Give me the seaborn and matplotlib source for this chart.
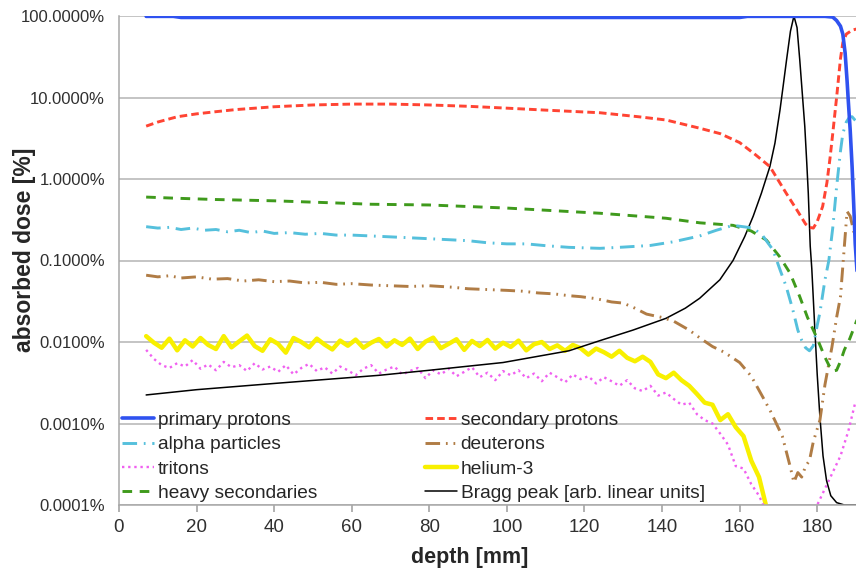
import matplotlib
matplotlib.use("Agg")
import matplotlib.pyplot as plt
from matplotlib.ticker import FuncFormatter, FixedLocator, NullLocator
import seaborn as sns

# depth [mm] and absorbed dose [%]
primary_x = [7, 14, 16, 60, 100, 140, 160, 162, 182, 184, 185, 186, 186.6, 187.2, 187.7, 188, 188.5, 189, 189.4, 189.8, 190.5]
primary_y = [99, 99, 96, 96, 96, 96, 96, 99, 99, 97, 88, 75, 60, 35, 16, 9.3, 4, 1.4, 0.5, 0.16, 0.05]

secondary_x = [7, 10, 15, 20, 25, 30, 40, 50, 60, 70, 80, 90, 100, 110, 124, 134, 141, 149.7, 155, 160, 164, 167.8,
               172, 175, 177, 178, 179, 180, 181.4, 182.5, 183.3, 184, 185, 186, 186.6, 187.5, 189, 190.5]
secondary_y = [4.45, 5.0, 5.8, 6.3, 6.7, 7.1, 7.7, 8.1, 8.3, 8.3, 8.1, 7.8, 7.4, 7.0, 6.5, 5.8, 5.3, 4.2, 3.6,
               2.8, 2.0, 1.42, 0.67, 0.4, 0.28, 0.255, 0.25, 0.3, 0.46, 0.9, 1.8, 3.6, 10, 30, 47, 60, 67, 70]

alpha_x = [7, 10, 13, 16, 19, 22, 25, 28, 31, 34, 37, 40, 44, 48, 52, 56, 60, 65, 70, 75, 80, 85, 90, 95, 100,
           105, 110, 116, 124, 130, 137, 143, 149.7, 154, 158.3, 163.5, 166, 168.6, 170.5, 172, 173.7,
           175, 176, 177, 178, 179, 180, 180.7, 182, 183, 184, 185, 186, 186.6, 187.5, 188.4, 189, 190.5]
alpha_y = [0.26, 0.25, 0.255, 0.24, 0.25, 0.235, 0.24, 0.225, 0.235, 0.22, 0.23, 0.215, 0.22, 0.21, 0.215, 0.205,
           0.205, 0.2, 0.195, 0.19, 0.185, 0.18, 0.175, 0.165, 0.16, 0.16, 0.152, 0.145, 0.141, 0.146, 0.153,
           0.17, 0.2, 0.235, 0.27, 0.25, 0.2, 0.135, 0.075, 0.048, 0.025, 0.014, 0.0105, 0.0085, 0.0078,
           0.009, 0.016, 0.023, 0.058, 0.1, 0.25, 0.8, 2.2, 3.6, 5.0, 5.8, 5.8, 4.8]

deuteron_x = [7, 10, 13, 16, 20, 24, 28, 32, 36, 40, 44, 48, 52, 56, 60, 65, 70, 75, 80, 86, 90, 95, 100, 104, 108,
              112, 116, 119, 123, 127, 130, 133, 136, 140, 143, 147, 150, 153, 156, 160, 163, 166, 168, 171, 173,
              174, 175, 176, 177, 178, 179, 180.7, 182, 183.8, 185, 186, 187, 187.7, 188.5, 189.5, 190.5]
deuteron_y = [0.066, 0.063, 0.065, 0.061, 0.063, 0.059, 0.06, 0.056, 0.058, 0.055, 0.056, 0.053, 0.054, 0.051, 0.052,
              0.05, 0.049, 0.048, 0.049, 0.047, 0.045, 0.044, 0.043, 0.042, 0.04, 0.039, 0.037, 0.036, 0.034, 0.031,
              0.03, 0.026, 0.022, 0.02, 0.018, 0.014, 0.011, 0.0088, 0.0075, 0.0056, 0.0038, 0.0021, 0.0014, 0.0007,
              0.0003, 0.00019, 0.00025, 0.00022, 0.0003, 0.00035, 0.0006, 0.0011, 0.003, 0.0087, 0.02, 0.036, 0.15,
              0.4, 0.35, 0.22, 0.2]

triton_x = [7, 9, 11, 13, 15, 17, 19, 21, 23, 25, 27, 29, 31, 33, 35, 37, 39, 41, 43, 45, 47, 49, 51, 53, 55, 57,
            59, 61, 63, 65, 67, 69, 71, 73, 75, 77, 79, 81, 83, 85, 87, 89, 91, 93, 95, 97, 99, 101, 103, 105, 107,
            109, 111, 113, 115, 117, 119, 121, 123, 125, 127, 129, 131, 133, 135, 137, 139, 141, 143, 145, 147, 149,
            151, 153, 155, 157, 159, 161, 163, 165, 167, 170, 176, 180, 183, 186, 188, 189.8]
triton_y = [0.008, 0.0062, 0.0052, 0.0048, 0.0055, 0.005, 0.006, 0.0047, 0.0053, 0.0045, 0.0057, 0.0049, 0.0052,
            0.0044, 0.0055, 0.0046, 0.005, 0.0043, 0.0052, 0.004, 0.0048, 0.0054, 0.0044, 0.0049, 0.0041, 0.005,
            0.0045, 0.0039, 0.0047, 0.0052, 0.0041, 0.0046, 0.005, 0.004, 0.0044, 0.0048, 0.0036, 0.0045, 0.004,
            0.0047, 0.0038, 0.0043, 0.0049, 0.0037, 0.0042, 0.0034, 0.0044, 0.0039, 0.0045, 0.0036, 0.0041, 0.0033,
            0.0042, 0.0037, 0.0032, 0.004, 0.0035, 0.0038, 0.0031, 0.0037, 0.0033, 0.0029, 0.0034, 0.0027, 0.0025,
            0.0029, 0.0022, 0.0024, 0.002, 0.0017, 0.0018, 0.0013, 0.0011, 0.001, 0.00075, 0.00055, 0.0003, 0.00028,
            0.00018, 0.00013, 0.00008, 0.00003, 0.00003, 0.0001, 0.0002, 0.0004, 0.0008, 0.0018]

helium_x = [7, 9, 11, 13, 15, 17, 19, 21, 23, 25, 27, 29, 31, 33, 35, 37, 39, 41, 43, 45, 47, 49, 51, 53, 55, 57,
            59, 61, 63, 65, 67, 69, 71, 73, 75, 77, 79, 81, 83, 85, 87, 89, 91, 93, 95, 97, 99, 101, 103, 105, 107,
            109, 111, 113, 115, 117, 119, 121, 123, 125, 127, 129, 131, 133, 135, 137, 139, 141, 143, 145, 147, 149,
            151, 153, 155, 157, 159, 161, 163, 165, 167]
helium_y = [0.0118, 0.0098, 0.0085, 0.011, 0.0079, 0.0105, 0.0088, 0.0112, 0.0092, 0.0082, 0.0118, 0.0086, 0.0102,
            0.012, 0.0089, 0.0078, 0.0108, 0.0095, 0.0074, 0.0112, 0.01, 0.0086, 0.011, 0.0093, 0.0081, 0.0104,
            0.009, 0.0107, 0.0085, 0.0098, 0.0109, 0.0088, 0.0105, 0.0092, 0.011, 0.0082, 0.0101, 0.0113, 0.0084,
            0.0095, 0.0108, 0.008, 0.0103, 0.0089, 0.0106, 0.0083, 0.0098, 0.0087, 0.0104, 0.0079, 0.0094, 0.01,
            0.0082, 0.0091, 0.0078, 0.0092, 0.0084, 0.007, 0.0083, 0.0075, 0.0066, 0.0078, 0.0064, 0.0058, 0.0066,
            0.0057, 0.004, 0.0036, 0.0042, 0.0034, 0.0029, 0.0023, 0.0018, 0.0017, 0.0011, 0.0013, 0.0009, 0.0007,
            0.00035, 0.00022, 0.00009]

heavy_x = [7, 15, 25, 40, 55, 65, 80, 100, 124, 141, 149.7, 158.3, 163, 166.9, 170.4, 173, 175.5, 177.5, 179, 180,
           182, 183, 184, 185, 186, 187, 188.4, 190.5]
heavy_y = [0.6, 0.58, 0.56, 0.54, 0.51, 0.49, 0.48, 0.44, 0.38, 0.33, 0.29, 0.27, 0.23, 0.178, 0.11, 0.07, 0.036,
           0.02, 0.014, 0.011, 0.0065, 0.0052, 0.0044, 0.0045, 0.0058, 0.008, 0.011, 0.02]

bragg_x = [7, 20, 40, 67, 80, 99, 116, 124, 132.5, 141, 146, 149.7, 154.9, 158.3, 161.3, 163.5, 165.6, 167.8,
           169.1, 170.4, 171.2, 172.1, 173.1, 174, 174.8, 175.5, 176.8, 177.3, 177.7, 178.2, 178.6, 179.4, 180,
           180.7, 181.5, 182.4, 183.5, 185, 187, 190.5]
bragg_y = [0.00224, 0.0026, 0.0031, 0.0039, 0.0045, 0.0056, 0.0078, 0.0104, 0.014, 0.0195, 0.026, 0.0344, 0.058,
           0.1, 0.196, 0.35, 0.667, 1.42, 2.75, 7, 13.6, 29, 65, 100, 72, 29, 4.4, 1.6, 0.67, 0.15, 0.08, 0.014,
           0.004, 0.0012, 0.0004, 0.0002, 0.00013, 0.000107, 0.0001, 0.0001]

series = [
    ("primary protons", primary_x, primary_y, "#2f52f0", 2.6, "-"),
    ("alpha particles", alpha_x, alpha_y, "#55c0dc", 2.1, (0, (5, 2.3, 0.6, 2.3))),
    ("tritons", triton_x, triton_y, "#f060f0", 1.7, (0, (1, 1.6))),
    ("heavy secondaries", heavy_x, heavy_y, "#3f9a1c", 2.1, (0, (3.3, 2.6))),
    ("secondary protons", secondary_x, secondary_y, "#ff4433", 2.1, (0, (2.6, 1.4))),
    ("deuterons", deuteron_x, deuteron_y, "#b07c45", 2.1, (0, (5, 2, 0.6, 2, 0.6, 2))),
    ("helium-3", helium_x, helium_y, "#f8f000", 3.2, "-"),
    ("Bragg peak [arb. linear units]", bragg_x, bragg_y, "black", 1.1, "-"),
]
draw_order = [6, 2, 7, 5, 3, 1, 4, 0]

sns.set_theme(style="white")
plt.rcParams["font.family"] = ["Liberation Sans", "DejaVu Sans"]

fig = plt.figure(figsize=(8.56, 5.69), dpi=100)
ax = fig.add_axes([119 / 856, 64 / 569, 737 / 856, 489 / 569])
ax.set_yscale("log")

handles = [None] * len(series)
for i in draw_order:
    name, xs, ys, color, lw, ls = series[i]
    sns.lineplot(x=xs, y=ys, ax=ax, color=color, linewidth=lw, linestyle=ls, sort=False,
                 estimator=None, label=name, legend=False)
    handles[i] = ax.get_lines()[-1]

ax.set_xlim(0, 190)
ax.set_ylim(1e-4, 100)
ax.xaxis.set_major_locator(FixedLocator(range(0, 181, 20)))
ax.yaxis.set_major_locator(FixedLocator([1e-4, 1e-3, 1e-2, 1e-1, 1, 10, 100]))
ax.yaxis.set_minor_locator(NullLocator())
ax.yaxis.set_major_formatter(FuncFormatter(lambda v, p: f"{v:.4f}%"))
ax.grid(axis="y", color="#b4b4b4", linewidth=1.1)
ax.grid(axis="x", visible=False)
ax.set_axisbelow(True)

for s in ["top", "right"]:
    ax.spines[s].set_visible(False)
for s in ["left", "bottom"]:
    ax.spines[s].set_color("#a8a8a8")
    ax.spines[s].set_linewidth(1.1)

ax.tick_params(axis="y", which="major", length=6, color="#a8a8a8", labelsize=12, labelcolor="#303030", pad=4)
ax.tick_params(axis="x", which="major", length=5, color="#a8a8a8", labelsize=13.5, labelcolor="#303030", pad=5,
               bottom=True)

ax.set_xlabel("depth [mm]", fontsize=15.5, fontweight="bold")
ax.set_ylabel("absorbed dose [%]", fontsize=16.5, fontweight="bold")
ax.xaxis.set_label_coords(0.476, -0.086)
ax.yaxis.set_label_coords(-0.113, 0.521)

ax.legend(handles=handles, labels=[s[0] for s in series], ncol=2, loc="lower left",
          bbox_to_anchor=(0, 0), frameon=False, fontsize=13.8, handlelength=1.7, handletextpad=0.18,
          columnspacing=5.6, labelspacing=0.36, borderaxespad=0, borderpad=0.15)

fig.savefig("out.png", dpi=100)
